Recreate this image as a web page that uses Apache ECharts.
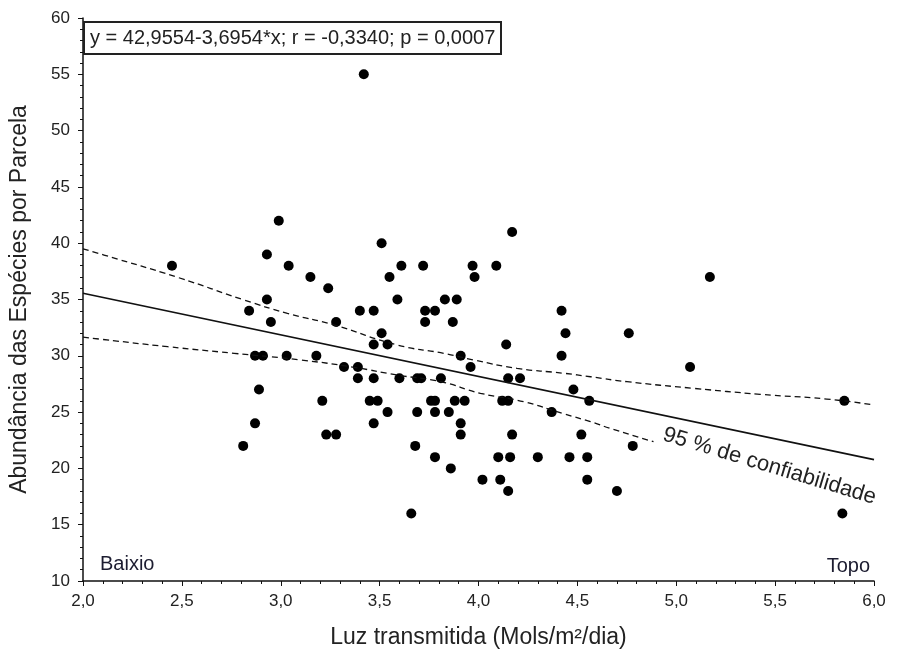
<!DOCTYPE html>
<html>
<head>
<meta charset="utf-8">
<script src="https://cdn.jsdelivr.net/npm/echarts@6/dist/echarts.min.js"></script>
<style>
html,body{margin:0;padding:0;background:#fff;}
#chart{width:898px;height:660px;}
</style>
</head>
<body>
<div id="chart"></div>
<script>
// Scatter points: light (x) and species abundance (y)
const lightX = [2.99,2.93,2.45,3.04,3.15,3.24,2.93,2.84,2.95,3.40,3.28,2.87,2.91,3.03,3.18,3.32,3.39,3.39,2.89,3.21,2.87,3.23,3.28,2.81,
  3.42,4.17,3.51,3.61,3.72,3.97,4.09,3.55,3.98,3.59,3.83,3.89,3.47,3.73,3.78,4.42,3.73,3.87,4.44,3.51,3.47,3.54,4.14,4.42,3.91,3.96,
  3.47,3.60,3.69,3.71,3.81,4.15,4.21,4.48,4.56,3.45,3.49,3.76,3.78,3.88,3.93,4.12,4.15,3.54,3.69,3.78,3.85,4.37,3.47,3.91,3.91,4.17,
  4.52,3.68,3.78,4.10,4.16,4.30,4.46,4.55,3.86,4.02,4.11,4.55,4.15,3.66,5.17,4.76,5.07,5.85,4.78,4.70,5.84];
const abundY = [42,39,38,38,37,36,35,34,33,34,33,30,30,30,30,29,29,28,27,26,24,23,23,22,
  55,41,40,38,38,38,38,37,37,35,35,35,34,34,34,34,33,33,32,32,31,31,31,30,30,29,
  28,28,28,28,28,28,28,27,26,26,26,26,26,26,26,26,26,25,25,25,25,25,24,24,23,23,
  23,22,21,21,21,21,21,21,20,19,19,19,18,16,37,32,29,26,22,18,16];
// Regression line end points
const fitX = [2.0, 6.0];
const fitY = [35.56, 20.78];
// 95% confidence bands
const upperX = [2.0,2.106,2.478,2.815,3.034,3.269,3.589,3.825,3.976,4.195,4.431,4.566,4.751,5.088,5.424,5.761,6.0];
const upperY = [39.5,38.95,36.97,34.96,33.77,32.74,30.96,30.22,29.63,28.89,28.45,28.14,27.70,27.11,26.58,26.16,25.63];
const lowerX = [2.0,2.091,2.428,2.764,3.101,3.370,3.589,3.808,4.010,4.229,4.431,4.566,4.667,4.885];
const lowerY = [31.65,31.47,30.81,30.22,29.63,28.98,28.29,27.70,26.67,25.92,24.85,24.15,23.55,22.37];
// Axis ticks
const xMin = 2.0, xMax = 6.0, xStep = 0.5;
const yMin = 10, yMax = 60, yStep = 5;
// Texts
const eqText = 'y = 42,9554-3,6954*x; r = -0,3340; p = 0,0007';
const xTitle = 'Luz transmitida (Mols/m²/dia)';
const yTitle = 'Abundância das Espécies por Parcela';
const bandLabel = '95 % de confiabilidade';
const bandLabelAt = [4.92, 22.1];
const leftNote = 'Baixio', rightNote = 'Topo';

const FONT = 'Liberation Sans, Arial, sans-serif';
const TXT = '#222';
const chart = echarts.init(document.getElementById('chart'), null, {renderer: 'canvas'});
const zip = (a, b) => a.map((v, i) => [v, b[i]]);

chart.setOption({
  animation: false,
  backgroundColor: '#fff',
  title: {
    text: eqText, left: 84, top: 22,
    padding: [6, 6, 6, 6], borderColor: '#222', borderWidth: 2,
    textStyle: {fontSize: 20, fontWeight: 'normal', fontFamily: FONT, color: TXT}
  },
  grid: {left: 82, right: 24, top: 18, bottom: 79, containLabel: false},
  xAxis: {
    type: 'value', min: xMin, max: xMax, interval: xStep,
    name: xTitle, nameLocation: 'middle', nameGap: 45,
    nameTextStyle: {fontSize: 23, fontFamily: FONT, color: TXT},
    axisLine: {show: true, onZero: false, lineStyle: {color: '#111', width: 1.5}},
    axisTick: {show: true, inside: false, length: 5, lineStyle: {color: '#111'}},
    minorTick: {show: true, splitNumber: 5, length: 3, lineStyle: {color: '#111'}},
    splitLine: {show: false},
    axisLabel: {fontSize: 17, fontFamily: FONT, color: TXT, margin: 12,
      formatter: v => v.toFixed(1).replace('.', ',')}
  },
  yAxis: {
    type: 'value', min: yMin, max: yMax, interval: yStep,
    name: yTitle, nameLocation: 'middle', nameGap: 52, nameRotate: 90,
    nameTextStyle: {fontSize: 23, fontFamily: FONT, color: TXT},
    axisLine: {show: true, onZero: false, lineStyle: {color: '#111', width: 1.5}},
    axisTick: {show: true, inside: false, length: 5, lineStyle: {color: '#111'}},
    minorTick: {show: true, splitNumber: 5, length: 3, lineStyle: {color: '#111'}},
    splitLine: {show: false},
    axisLabel: {fontSize: 17, fontFamily: FONT, color: TXT, margin: 13}
  },
  series: [
    {type: 'line', data: zip(upperX, upperY), showSymbol: false, smooth: true,
     lineStyle: {color: '#111', width: 1.3, type: [6, 4]}, silent: true},
    {type: 'line', data: zip(lowerX, lowerY), showSymbol: false, smooth: true,
     lineStyle: {color: '#111', width: 1.3, type: [6, 4]}, silent: true},
    {type: 'line', data: zip(fitX, fitY), showSymbol: false,
     lineStyle: {color: '#111', width: 1.6}, silent: true},
    {type: 'scatter', data: zip(lightX, abundY), symbol: 'circle', symbolSize: 10,
     itemStyle: {color: '#000', opacity: 1}}
  ]
});

const p = chart.convertToPixel({gridIndex: 0}, bandLabelAt);
chart.setOption({
  graphic: [
    {type: 'text', x: p[0], y: p[1], rotation: -16.8 * Math.PI / 180,
     style: {text: bandLabel, font: '22px ' + FONT, fill: TXT, textVerticalAlign: 'bottom', textAlign: 'left'}},
    {type: 'text', left: 100, top: 554,
     style: {text: leftNote, font: '20px ' + FONT, fill: '#1c1c30'}},
    {type: 'text', right: 28, top: 556,
     style: {text: rightNote, font: '20px ' + FONT, fill: '#1c1c30'}}
  ]
});
</script>
</body>
</html>
